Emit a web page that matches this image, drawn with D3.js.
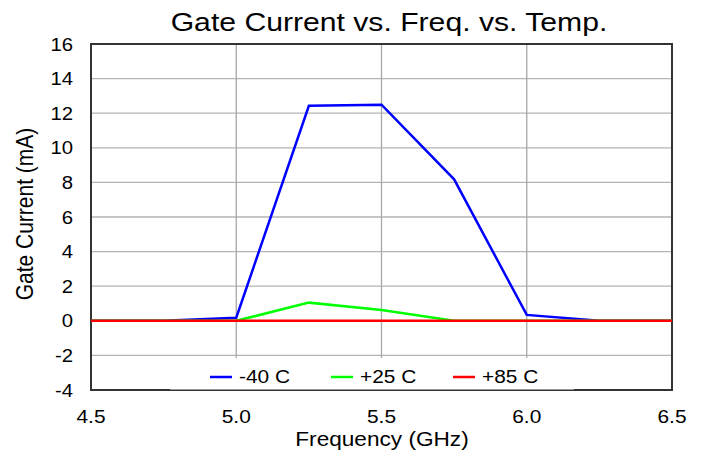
<!DOCTYPE html>
<html>
<head>
<meta charset="utf-8">
<script src="https://cdn.jsdelivr.net/npm/d3@7"></script>
<style>
  body { margin: 0; background: #fff; }
  text { font-family: "Liberation Sans", Arial, sans-serif; fill: #000; }
</style>
</head>
<body>
<svg id="chart" width="703" height="456"></svg>
<script>
// data
var freqs = [4.5, 4.75, 5.0, 5.25, 5.5, 5.75, 6.0, 6.25, 6.5];
var minus40 = [0, 0, 0.18, 12.43, 12.49, 8.18, 0.34, 0, 0];
var plus25 = [0, 0, 0, 1.05, 0.62, 0, 0, 0, 0];
var plus85 = [0, 0, 0, 0, 0, 0, 0, 0, 0];
var seriesNames = ["-40 C", "+25 C", "+85 C"];
var seriesColors = ["#0000ff", "#00ff00", "#ff0000"];
var xTicks = [4.5, 5.0, 5.5, 6.0, 6.5];
var yTicks = [-4, -2, 0, 2, 4, 6, 8, 10, 12, 14, 16];

var svg = d3.select("#chart");
var plotL = 91, plotR = 672, plotT = 44, plotB = 390;
var stretch = 1.16; // text in the picture is a little wider than tall

var x = d3.scaleLinear().domain([4.5, 6.5]).range([plotL, plotR]);
var y = d3.scaleLinear().domain([-4, 16]).range([plotB, plotT]);

function label(px, py, size, anchor, str, rot) {
  return svg.append("text")
    .attr("transform", "translate(" + px + "," + py + ") scale(" + stretch + ",1)" + (rot ? " rotate(-90)" : ""))
    .attr("text-anchor", anchor).attr("font-size", size).text(str);
}

// grid
svg.append("g").selectAll("line").data(yTicks.slice(1, -1)).enter().append("line")
  .attr("x1", plotL).attr("x2", plotR)
  .attr("y1", function(d) { return y(d); }).attr("y2", function(d) { return y(d); })
  .attr("stroke", "#b4b4b4").attr("stroke-width", 1.3);
svg.append("g").selectAll("line").data(xTicks.slice(1, -1)).enter().append("line")
  .attr("y1", plotT).attr("y2", plotB)
  .attr("x1", function(d) { return x(d); }).attr("x2", function(d) { return x(d); })
  .attr("stroke", "#a8a8a8").attr("stroke-width", 1.3);

// frame
svg.append("rect").attr("x", plotL).attr("y", plotT)
  .attr("width", plotR - plotL).attr("height", plotB - plotT)
  .attr("fill", "none").attr("stroke", "#333").attr("stroke-width", 2);

// lines
var line = d3.line()
  .x(function(d, i) { return x(freqs[i]); })
  .y(function(d) { return y(d); });
[minus40, plus25, plus85].forEach(function(s, i) {
  svg.append("path").datum(s).attr("d", line)
    .attr("fill", "none").attr("stroke", seriesColors[i]).attr("stroke-width", 2.5);
});

// legend box
svg.append("rect").attr("x", 170).attr("y", 358).attr("width", 404).attr("height", 31.5)
  .attr("fill", "#fff");
var legendX = [210, 331, 453];
seriesNames.forEach(function(n, i) {
  svg.append("line").attr("x1", legendX[i]).attr("x2", legendX[i] + 22)
    .attr("y1", 377).attr("y2", 377)
    .attr("stroke", seriesColors[i]).attr("stroke-width", 2.5);
  label(legendX[i] + 29, 383, 18, "start", n);
});

// tick labels
yTicks.forEach(function(d) { label(73, y(d) + 6.5, 17.5, "end", d); });
xTicks.forEach(function(d) { label(x(d), 423, 18, "middle", d3.format(".1f")(d)); });

// titles
label(389, 31, 26, "middle", "Gate Current vs. Freq. vs. Temp.");
label(382, 446, 19.5, "middle", "Frequency (GHz)");
label(33, 214, 21, "middle", "Gate Current (mA)", true);
</script>
</body>
</html>
